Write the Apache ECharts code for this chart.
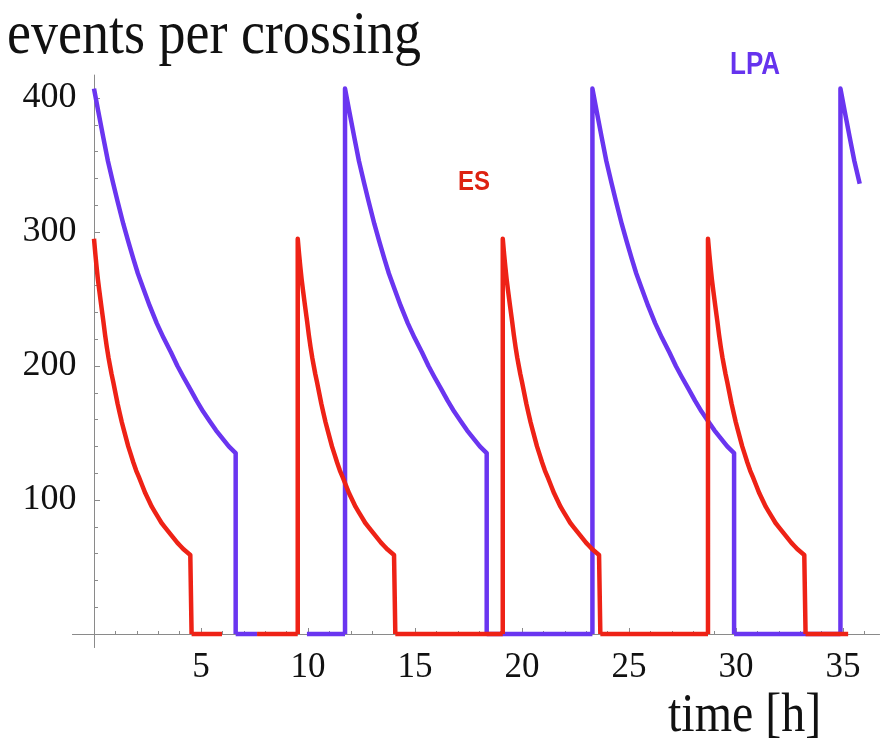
<!DOCTYPE html>
<html><head><meta charset="utf-8">
<script src="https://cdn.jsdelivr.net/npm/echarts@6/dist/echarts.min.js"></script>
<style>html,body{margin:0;padding:0;background:#fff}#c{width:881px;height:748px}</style>
</head><body><div id="c"></div>
<script>
// ES (red) single-fill decay profile: hours after fill, events per crossing
const esProfileT = [0, 0.06, 0.12, 0.18, 0.25, 0.34, 0.44, 0.52, 0.6, 0.68, 0.75, 0.82, 0.9, 1.0, 1.1, 1.2, 1.3, 1.4, 1.5, 1.6, 1.72, 1.84, 1.97, 2.1, 2.25, 2.4, 2.55, 2.7, 2.85, 3.0, 3.15, 3.3, 3.45, 3.6, 3.75, 3.9, 4.05, 4.2, 4.35, 4.5, 4.56];
const esProfileV = [295, 284, 274, 265, 256, 245, 233, 223, 214, 206, 200, 194, 188, 180, 172, 165, 158, 152, 146, 140, 134, 128, 122, 117, 111, 105, 100, 95, 91, 87, 83, 80, 77, 74, 71, 68, 65.5, 63, 61, 59, 58];
const esStarts = [0, 9.52, 19.1, 28.69];
const esZeroFrom = [4.56, 7.62, 14.08, 23.66, 33.25];
const esZeroTo   = [5.98, 9.52, 19.1, 28.69, 35.24];

// LPA (blue) single-fill decay profile
const lpaProfileT = [0, 0.2, 0.44, 0.65, 0.9, 1.1, 1.37, 1.6, 1.84, 2.05, 2.3, 2.6, 2.93, 3.25, 3.6, 3.9, 4.17, 4.49, 4.8, 5.1, 5.4, 5.7, 6.0, 6.3, 6.62];
const lpaProfileV = [407, 390, 370, 353, 336, 323, 306, 293, 280, 269, 258, 245, 232, 221, 210, 200, 192, 183, 174, 166, 159, 152, 146, 140, 135];
const lpaStarts = [0, 11.73, 23.29, 34.88];
const lpaZeroFrom = [6.62, 9.95, 18.35, 29.91];
const lpaZeroTo   = [7.62, 11.73, 23.29, 34.88];

const timeEnd = 35.89;

const xMajor = [5, 10, 15, 20, 25, 30, 35];
const xMinor = [1,2,3,4,6,7,8,9,11,12,13,14,16,17,18,19,21,22,23,24,26,27,28,29,31,32,33,34,36];
const yMajor = [100, 200, 300, 400];
const yMinor = [20,40,60,80,120,140,160,180,220,240,260,280,320,340,360,380];

function buildData(profT, profV, starts, zFrom, zTo) {
  const d = [];
  starts.forEach(s => {
    if (s > 0) d.push([s, 0]);
    for (let k = 0; k < profT.length; k++) {
      const t = s + profT[k];
      if (t > timeEnd) break;
      d.push([t, profV[k]]);
    }
    const tLast = s + profT[profT.length - 1];
    if (tLast <= timeEnd) d.push([tLast, 0]);
    d.push(['-', '-']);
  });
  zFrom.forEach((f, i) => {
    d.push([f, 0]); d.push([zTo[i], 0]); d.push(['-', '-']);
  });
  return d;
}

const AX = '#8a8a8a';
const serif = 'Liberation Serif';
const chart = echarts.init(document.getElementById('c'), null, {renderer: 'canvas'});

function xAx(ticks, len, labels) {
  return {
    type: 'value', min: -1, max: 36.7, position: 'bottom',
    axisLine: {show: true, onZero: true, onZeroAxisIndex: 0, lineStyle: {color: AX, width: 1}},
    axisTick: {show: true, inside: true, length: len, customValues: ticks, lineStyle: {color: AX, width: 1}},
    axisLabel: labels ? {show: true, customValues: labels, margin: 3, color: '#111', fontFamily: serif, fontSize: 35} : {show: false},
    splitLine: {show: false}
  };
}
function yAx(ticks, len, labels) {
  return {
    type: 'value', min: -10, max: 417, position: 'left',
    axisLine: {show: true, onZero: true, onZeroAxisIndex: 0, lineStyle: {color: AX, width: 1}},
    axisTick: {show: true, inside: true, length: len, customValues: ticks, lineStyle: {color: AX, width: 1}},
    axisLabel: labels ? {show: true, customValues: labels, margin: -4, color: '#111', fontFamily: serif, fontSize: 36} : {show: false},
    splitLine: {show: false}
  };
}

chart.setOption({
  animation: false,
  backgroundColor: '#fff',
  grid: {left: 72.6, right: 1.6, top: 75.2, bottom: 100.6, containLabel: false},
  xAxis: [xAx(xMajor, 6, xMajor), xAx(xMinor, 3, null)],
  yAxis: [yAx(yMajor, 6, yMajor), yAx(yMinor, 4, null)],
  series: [
    {name: 'LPA', type: 'line', xAxisIndex: 0, yAxisIndex: 0,
     data: buildData(lpaProfileT, lpaProfileV, lpaStarts, lpaZeroFrom, lpaZeroTo),
     showSymbol: false, symbol: 'none', connectNulls: false,
     lineStyle: {color: '#6a35f0', width: 4.5, join: 'round'}, emphasis: {disabled: true}},
    {name: 'ES', type: 'line', xAxisIndex: 0, yAxisIndex: 0,
     data: buildData(esProfileT, esProfileV, esStarts, esZeroFrom, esZeroTo),
     showSymbol: false, symbol: 'none', connectNulls: false,
     lineStyle: {color: '#ee2216', width: 4.5, join: 'round'}, emphasis: {disabled: true}}
  ],
  graphic: [
    {type: 'text', x: 7, y: 37, scaleY: 1.13,
     style: {text: 'events per crossing', font: '54px "Liberation Serif"', fill: '#111', align: 'left', verticalAlign: 'middle'}},
    {type: 'text', x: 668, y: 716, scaleY: 1.15,
     style: {text: 'time [h]', font: '48px "Liberation Serif"', fill: '#111', align: 'left', verticalAlign: 'middle'}},
    {type: 'text', x: 730, y: 66, scaleY: 1.18,
     style: {text: 'LPA', font: 'bold 26px "Liberation Sans"', fill: '#6633ee', align: 'left', verticalAlign: 'middle'}},
    {type: 'text', x: 458, y: 183, scaleY: 1.12,
     style: {text: 'ES', font: 'bold 24px "Liberation Sans"', fill: '#dd2211', align: 'left', verticalAlign: 'middle'}}
  ]
});
</script>
</body></html>
